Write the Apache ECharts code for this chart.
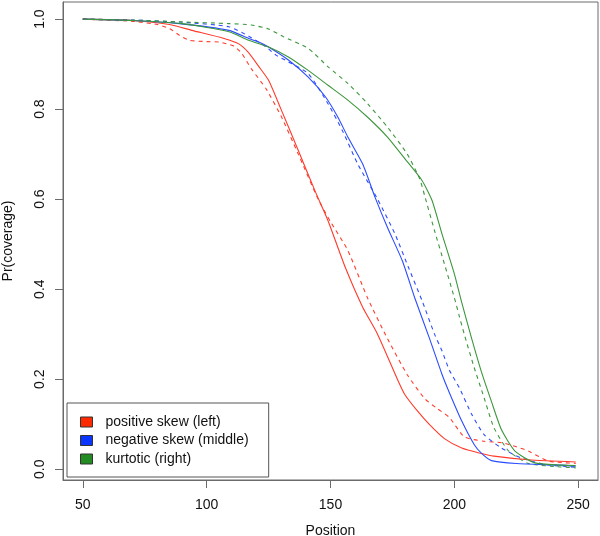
<!DOCTYPE html>
<html>
<head>
<meta charset="utf-8">
<script src="https://cdn.jsdelivr.net/npm/echarts@6/dist/echarts.min.js"></script>
<style>
html,body{margin:0;padding:0;background:#fff;}
#chart{width:600px;height:536px;}
</style>
</head>
<body>
<div id="chart"></div>
<script>
// ---- data ----
const xTicks = [50, 100, 150, 200, 250];
const yTicks = [0, 0.2, 0.4, 0.6, 0.8, 1.0];
const seriesNames = ['positive skew (left)', 'negative skew (middle)', 'kurtotic (right)'];

const redSolidX = [50,70,85,94,107,113,117,121,125,130,137,144,149,156,163,169,177,180,185,190,196,203,210,216,230,249];
const redSolidY = [1.0,0.997,0.988,0.975,0.957,0.945,0.925,0.895,0.864,0.80,0.708,0.615,0.552,0.448,0.36,0.30,0.20,0.166,0.13,0.099,0.068,0.047,0.036,0.029,0.021,0.016];

const redDashX = [50,70,80,85,89,93,100,105,111,114,118,124,130,137,145,150,157,165,173,181,188,193,198,204,212,219,225,230,238,249];
const redDashY = [1.0,0.995,0.988,0.979,0.964,0.953,0.95,0.949,0.94,0.925,0.89,0.845,0.785,0.70,0.60,0.55,0.486,0.38,0.29,0.21,0.157,0.135,0.115,0.072,0.062,0.059,0.05,0.04,0.018,0.013];

const blueSolidX = [50,70,89,109,117,121,125,133,141,148,153,157,163,168,173,179,184,190,195,198,203,208,211,215,225,243,249];
const blueSolidY = [1.0,0.997,0.99,0.975,0.957,0.949,0.938,0.909,0.871,0.827,0.782,0.738,0.678,0.604,0.537,0.463,0.381,0.29,0.211,0.17,0.107,0.055,0.035,0.019,0.0126,0.009,0.0067];

const blueDashX = [50,70,90,109,117,124,128,133,141,149,155,161,169,176,181.5,187,192,195,198,202,207,212,219,227,237,249];
const blueDashY = [1.0,0.998,0.993,0.983,0.962,0.938,0.92,0.905,0.879,0.812,0.75,0.678,0.60,0.523,0.448,0.374,0.30,0.263,0.22,0.181,0.122,0.077,0.047,0.025,0.010,0.0045];

const greenSolidX = [50,70,90,109,117,125,133,141,149,157,165,173,180,187,191,195,200,203,207,211,215,219,224.5,232.5,243,249];
const greenSolidY = [1.0,0.997,0.99,0.972,0.953,0.938,0.916,0.886,0.853,0.82,0.782,0.738,0.69,0.641,0.597,0.523,0.434,0.37,0.29,0.215,0.15,0.088,0.04,0.014,0.009,0.008];

const greenDashX = [50,70,89,109,118,125,131,141,149,157,165,173,181,186,188,192,196,200,202,204,208,212,216,222,230,243,249];
const greenDashY = [1.0,0.998,0.994,0.99,0.987,0.978,0.961,0.935,0.894,0.857,0.812,0.76,0.70,0.645,0.608,0.53,0.456,0.381,0.34,0.30,0.226,0.159,0.092,0.04,0.0126,0.005,0.003];

// ---- styling ----
const lineColors = ['#ff3b2b', '#2b4cff', '#3c963c'];
const legendColors = ['#ff2a00', '#0a35ff', '#228b22'];
const FONT = '"Liberation Sans", Arial, Helvetica, sans-serif';
const AXIS_COLOR = '#6a6a6a';

function pairs(xs, ys) { return xs.map((x, i) => [x, ys[i]]); }

function mk(name, color, xs, ys, dashed) {
  return {
    name: name,
    type: 'line',
    data: pairs(xs, ys),
    showSymbol: false,
    symbol: 'none',
    smooth: 0.2,
    z: dashed ? 2 : 3,
    itemStyle: { color: color },
    lineStyle: { color: color, width: 1.1, type: dashed ? [4, 4] : 'solid' },
    emphasis: { disabled: true }
  };
}

const chart = echarts.init(document.getElementById('chart'), null, { renderer: 'canvas' });
chart.setOption({
  animation: false,
  backgroundColor: '#ffffff',
  textStyle: { fontFamily: FONT },
  grid: {
    left: 63, right: 2, top: 2, bottom: 56,
    show: true, borderColor: AXIS_COLOR, borderWidth: 1,
    containLabel: false, outerBoundsMode: 'none'
  },
  xAxis: {
    type: 'value',
    min: 42, max: 258,
    name: 'Position',
    nameLocation: 'middle',
    nameGap: 44,
    nameTextStyle: { fontFamily: FONT, fontSize: 14, color: '#111' },
    axisLine: { show: true, onZero: false, lineStyle: { color: AXIS_COLOR, width: 1 } },
    axisTick: { show: true, length: 8, lineStyle: { color: AXIS_COLOR }, customValues: xTicks },
    axisLabel: { fontFamily: FONT, fontSize: 14, color: '#111', margin: 18, customValues: xTicks },
    splitLine: { show: false }
  },
  yAxis: {
    type: 'value',
    min: -0.024, max: 1.038,
    name: 'Pr(coverage)',
    nameLocation: 'middle',
    nameGap: 48,
    nameRotate: 90,
    nameTextStyle: { fontFamily: FONT, fontSize: 14, color: '#111' },
    axisLine: { show: true, onZero: false, lineStyle: { color: AXIS_COLOR, width: 1 } },
    axisTick: { show: true, length: 8, lineStyle: { color: AXIS_COLOR }, customValues: yTicks },
    axisLabel: {
      fontFamily: FONT, fontSize: 14, color: '#111', margin: 16, rotate: 90,
      customValues: yTicks,
      formatter: v => Number(v).toFixed(1)
    },
    splitLine: { show: false }
  },
  legend: {
    orient: 'vertical',
    left: 67, top: 403,
    padding: [12, 20, 11, 13],
    itemWidth: 12, itemHeight: 10, itemGap: 4.5,
    icon: 'rect',
    backgroundColor: '#ffffff',
    borderColor: '#555',
    borderWidth: 1,
    z: 10,
    selectedMode: false,
    textStyle: { fontFamily: FONT, fontSize: 14, color: '#111', padding: [0, 0, 0, 8] },
    data: seriesNames.map((n, i) => ({
      name: n,
      itemStyle: { color: legendColors[i], borderColor: '#333', borderWidth: 1 }
    }))
  },
  series: [
    mk(seriesNames[0], lineColors[0], redSolidX, redSolidY, false),
    mk(seriesNames[0], lineColors[0], redDashX, redDashY, true),
    mk(seriesNames[1], lineColors[1], blueSolidX, blueSolidY, false),
    mk(seriesNames[1], lineColors[1], blueDashX, blueDashY, true),
    mk(seriesNames[2], lineColors[2], greenSolidX, greenSolidY, false),
    mk(seriesNames[2], lineColors[2], greenDashX, greenDashY, true)
  ]
});
</script>
</body>
</html>
